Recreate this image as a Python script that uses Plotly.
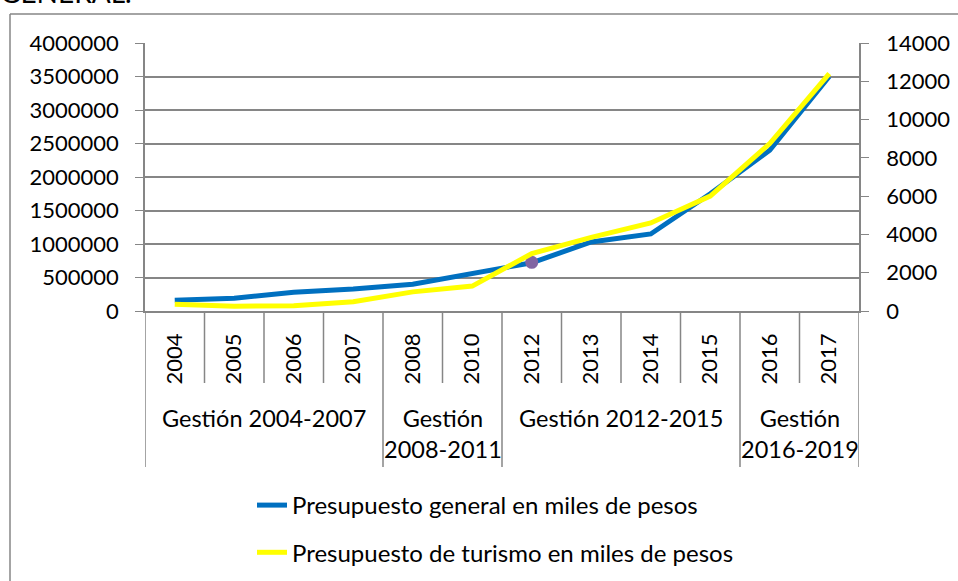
import plotly.graph_objects as go

years = ["2004", "2005", "2006", "2007", "2008", "2010", "2012", "2013", "2014", "2015", "2016", "2017"]
general = [160000, 190000, 280000, 330000, 400000, 560000, 720000, 1030000, 1150000, 1750000, 2400000, 3500000]
turismo = [350, 250, 270, 480, 1000, 1300, 3000, 3850, 4600, 6000, 8750, 12400]
groups = ["Gestión 2004-2007", "Gestión<br>2008-2011", "Gestión 2012-2015", "Gestión<br>2016-2019"]
group_spans = [(0, 3), (4, 5), (6, 9), (10, 11)]
marker_year = ["2012"]
marker_val = [727000]

FONT = "Lato"
GRAY = "#868686"
L, R, T, B = 145, 99, 43, 270
W, H = 958, 581
pw, ph = W - L - R, H - T - B

def px_x(p):
    return (p - L) / pw

def px_y(p):
    return (H - B - p) / ph

fig = go.Figure()
fig.add_trace(go.Scatter(x=years, y=general, mode="lines", name="Presupuesto general en miles de pesos",
                         line=dict(color="#0070C0", width=5), yaxis="y", legendgroup="a"))
fig.add_trace(go.Scatter(x=years, y=turismo, mode="lines", name="Presupuesto de turismo en miles de pesos",
                         line=dict(color="#FFFF00", width=5), yaxis="y2", legendgroup="b"))
fig.add_trace(go.Scatter(x=marker_year, y=marker_val, mode="markers", showlegend=False,
                         marker=dict(color="#8064A2", size=13), yaxis="y"))

shapes = []
for i in range(len(years) + 1):
    b = i - 0.5
    is_group = any(b == s - 0.5 for s, e in group_spans) or b == len(years) - 0.5
    shapes.append(dict(type="line", xref="x", yref="paper", x0=b, x1=b,
                       y0=0, y1=px_y(467) if is_group else px_y(383),
                       line=dict(color=GRAY, width=1.5)))
# outer chart border (top and left edges visible)
shapes.append(dict(type="line", xref="paper", yref="paper", x0=px_x(10), x1=px_x(958),
                   y0=px_y(14), y1=px_y(14), line=dict(color=GRAY, width=1.5)))
shapes.append(dict(type="line", xref="paper", yref="paper", x0=px_x(10), x1=px_x(10),
                   y0=px_y(14), y1=px_y(581), line=dict(color=GRAY, width=1.5)))

annotations = []
for g, (s, e) in zip(groups, group_spans):
    annotations.append(dict(text=g, xref="x", yref="paper", x=(s + e) / 2, y=px_y(402),
                            xanchor="center", yanchor="top", showarrow=False,
                            font=dict(family=FONT, size=23.5, color="black")))
annotations.append(dict(text="GENERAL.", xref="paper", yref="paper", x=px_x(-2), y=px_y(11),
                        xanchor="left", yanchor="bottom", showarrow=False,
                        font=dict(family=FONT, size=28, color="black")))

fig.update_layout(
    width=W, height=H,
    margin=dict(l=L, r=R, t=T, b=B, autoexpand=False),
    paper_bgcolor="white", plot_bgcolor="white",
    font=dict(family=FONT, size=22, color="black"),
    showlegend=True,
    legend=dict(x=px_x(252), y=px_y(483), xanchor="left", yanchor="top",
                font=dict(family=FONT, size=24), tracegroupgap=13, itemwidth=30,
                bgcolor="rgba(0,0,0,0)"),
    xaxis=dict(type="category", range=[-0.5, 11.5], tickangle=-90, ticks="",
               showline=True, linecolor=GRAY, linewidth=1.5, showgrid=False, automargin=False,
               ticklabelstandoff=12, tickfont=dict(family=FONT, size=22)),
    yaxis=dict(range=[0, 4000000], dtick=500000, tickformat="d", showgrid=True, automargin=False,
               gridcolor=GRAY, gridwidth=1.5, showline=True, linecolor=GRAY, linewidth=1.5,
               ticks="outside", ticklen=8, tickcolor=GRAY, zeroline=False,
               ticklabelstandoff=12, tickfont=dict(family=FONT, size=22)),
    yaxis2=dict(range=[0, 14000], dtick=2000, tickformat="d", overlaying="y", side="right",
                showgrid=False, showline=True, linecolor=GRAY, linewidth=1.5, automargin=False,
                ticks="outside", ticklen=8, tickcolor=GRAY, zeroline=False,
                ticklabelstandoff=13, tickfont=dict(family=FONT, size=22)),
    shapes=shapes, annotations=annotations,
)

fig.write_html("out.html", config={"displayModeBar": False},
               post_script="document.body.style.margin='0';document.body.style.overflow='hidden';")
